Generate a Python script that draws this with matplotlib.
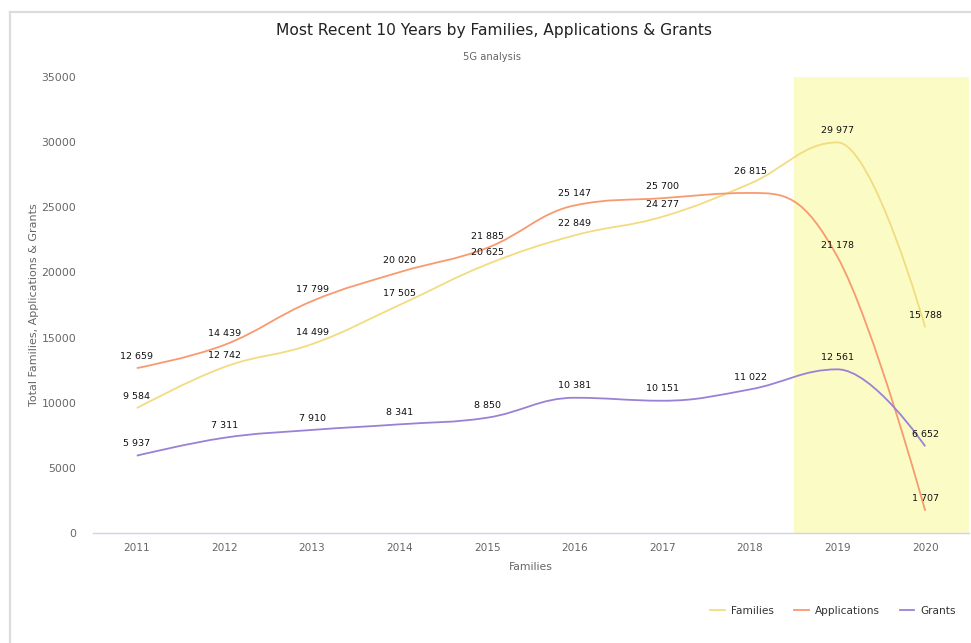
import matplotlib
matplotlib.use("Agg")
import matplotlib.pyplot as plt
from matplotlib.path import Path
from matplotlib.patches import PathPatch
from matplotlib.lines import Line2D

plt.rcParams['font.family'] = ['DejaVu Sans']

# ---- data ----
years = ['2011', '2012', '2013', '2014', '2015', '2016', '2017', '2018', '2019', '2020']
families = [9584, 12742, 14499, 17505, 20625, 22849, 24277, 26815, 29977, 15788]
applications = [12659, 14439, 17799, 20020, 21885, 25147, 25700, 26100, 21178, 1707]
grants = [5937, 7311, 7910, 8341, 8850, 10381, 10151, 11022, 12561, 6652]
hidden_labels = {'Applications': ['2018']}
highlight_years = ['2019', '2020']
y_ticks = [0, 5000, 10000, 15000, 20000, 25000, 30000, 35000]

series = [
    ('Families', families, '#f2dc80'),
    ('Applications', applications, '#f89a70'),
    ('Grants', grants, '#9c80d6'),
]

W, H = 971, 643
fig = plt.figure(figsize=(W / 100, H / 100), dpi=100)
ax = fig.add_axes([93 / W, 1 - 533 / H, 876 / W, 456 / H])


def spline_path(xs, ys, smoothing=1.5):
    denom = smoothing + 1
    n = len(xs)
    right = [None] * n
    verts = [(xs[0], ys[0])]
    codes = [Path.MOVETO]
    for i in range(1, n):
        px, py = xs[i], ys[i]
        lx, ly = xs[i - 1], ys[i - 1]
        lcx, lcy = px, py
        if i < n - 1:
            nx, ny = xs[i + 1], ys[i + 1]
            lcx = (smoothing * px + lx) / denom
            lcy = (smoothing * py + ly) / denom
            rcx = (smoothing * px + nx) / denom
            rcy = (smoothing * py + ny) / denom
            if rcx != lcx:
                corr = (rcy - lcy) * (rcx - px) / (rcx - lcx) + py - rcy
                lcy += corr
                rcy += corr
            if lcy > ly and lcy > py:
                lcy = max(ly, py); rcy = 2 * py - lcy
            elif lcy < ly and lcy < py:
                lcy = min(ly, py); rcy = 2 * py - lcy
            if rcy > ny and rcy > py:
                rcy = max(ny, py); lcy = 2 * py - rcy
            elif rcy < ny and rcy < py:
                rcy = min(ny, py); lcy = 2 * py - rcy
            right[i] = (rcx, rcy)
        prev_r = right[i - 1] if right[i - 1] is not None else (lx, ly)
        verts += [prev_r, (lcx, lcy), (px, py)]
        codes += [Path.CURVE4] * 3
    return Path(verts, codes)


xs = list(range(len(years)))

# highlight band
hx = [years.index(y) for y in highlight_years]
ax.axvspan(min(hx) - 0.5, max(hx) + 0.5, color='#fbfbc6', zorder=0, lw=0)

for name, vals, col in series:
    p = spline_path(xs, vals)
    ax.add_patch(PathPatch(p, facecolor='none', edgecolor=col, lw=1.3, zorder=3))
    for x, v, yr in zip(xs, vals, years):
        if yr in hidden_labels.get(name, []):
            continue
        ax.annotate(f"{v:,}".replace(',', ' '), (x, v), xytext=(0, 8.5),
                    textcoords='offset points', ha='center', va='center',
                    fontsize=6.8, color='#111111', zorder=5)

ax.set_xlim(-0.5, len(years) - 0.5)
ax.set_ylim(0, 35000)
ax.set_yticks(y_ticks)
ax.set_yticklabels([str(t) for t in y_ticks])
ax.set_xticks(xs)
ax.set_xticklabels(years)
ax.tick_params(axis='y', length=0, pad=12, labelsize=7.8, labelcolor='#666666')
ax.tick_params(axis='x', length=0, pad=7, labelsize=7.6, labelcolor='#666666')
for s in ['top', 'right', 'left']:
    ax.spines[s].set_visible(False)
ax.spines['bottom'].set_color('#ccd6eb')
ax.spines['bottom'].set_linewidth(1)
ax.set_facecolor('none')

ax.set_ylabel('Total Families, Applications & Grants', fontsize=8, color='#666666', labelpad=2)
ax.set_xlabel('Families', fontsize=7.8, color='#666666', labelpad=7)

fig.text(494 / W, 1 - 30 / H, 'Most Recent 10 Years by Families, Applications & Grants',
         ha='center', va='center', fontsize=11.2, color='#222222')
fig.text(492 / W, 1 - 57 / H, '5G analysis', ha='center', va='center',
         fontsize=7.2, color='#666666')

handles = [Line2D([], [], color=c, lw=1.3) for _, _, c in series]
fig.legend(handles, [n for n, _, _ in series], loc='center', ncol=3,
           bbox_to_anchor=(833 / W, 1 - 611 / H), frameon=False,
           fontsize=7.6, labelcolor='#333333', handlelength=1.4,
           handletextpad=0.55, columnspacing=1.9)

# outer frame lines
fig.add_artist(Line2D([10 / W, 10 / W], [0, 1 - 12 / H], color='#dcdcdc', lw=1.6,
                      transform=fig.transFigure))
fig.add_artist(Line2D([10 / W, 1], [1 - 12 / H, 1 - 12 / H], color='#dcdcdc', lw=1.6,
                      transform=fig.transFigure))

fig.savefig('out.png', dpi=100)
